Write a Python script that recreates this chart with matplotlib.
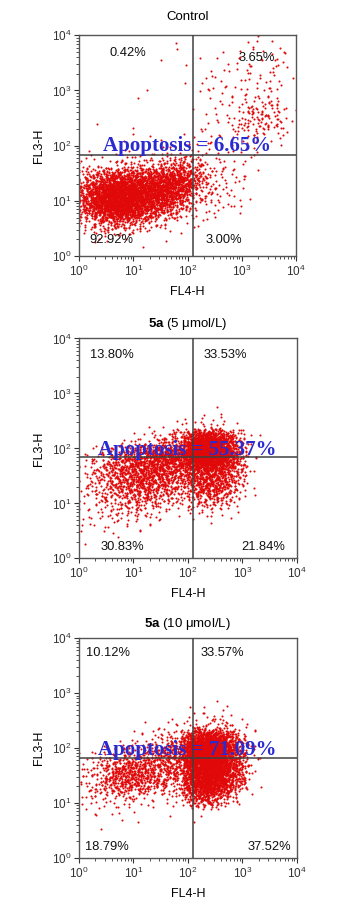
import matplotlib.pyplot as plt
import numpy as np

plt.rcParams['font.family'] = ['Liberation Sans', 'DejaVu Sans']
plt.rcParams['mathtext.fontset'] = 'custom'
plt.rcParams['mathtext.rm'] = 'Liberation Sans'
plt.rcParams['mathtext.bf'] = 'Liberation Sans:bold'
plt.rcParams['mathtext.it'] = 'Liberation Sans:italic'

titles = ["Control", r"$\mathbf{5a}$ (5 μmol/L)", r"$\mathbf{5a}$ (10 μmol/L)"]
apoptosis = ["6.65%", "55.37%", "71.09%"]
# quadrant percentages: upper-left, upper-right, lower-left, lower-right
pct_ul = ["0.42%", "13.80%", "10.12%"]
pct_ur = ["3.65%", "33.53%", "33.57%"]
pct_ll = ["92.92%", "30.83%", "18.79%"]
pct_lr = ["3.00%", "21.84%", "37.52%"]
gate_x = [126, 126, 126]
gate_y = [67, 69, 65]

# event counts on a 0.25-decade grid (rows: FL3-H high -> low, cols: FL4-H low -> high)
counts_control = [
    [0, 0, 0, 0, 0, 0, 0, 2, 0, 0, 0, 0, 2, 2, 2, 0],
    [0, 0, 0, 0, 0, 0, 0, 1, 0, 1, 2, 2, 2, 4, 4, 1],
    [0, 0, 0, 0, 0, 0, 1, 0, 0, 2, 3, 3, 4, 5, 4, 1],
    [0, 0, 0, 0, 1, 0, 0, 0, 1, 3, 4, 3, 4, 5, 4, 1],
    [0, 0, 0, 0, 1, 0, 0, 0, 0, 2, 3, 3, 5, 7, 4, 1],
    [0, 0, 0, 0, 0, 0, 0, 0, 1, 2, 3, 6, 14, 18, 14, 2],
    [0, 1, 0, 0, 0, 1, 0, 0, 1, 2, 3, 7, 16, 20, 13, 3],
    [0, 0, 0, 2, 1, 0, 2, 1, 2, 3, 3, 3, 4, 4, 2, 0],
    [1, 1, 1, 2, 2, 2, 3, 4, 6, 5, 3, 3, 2, 1, 0, 0],
    [6, 10, 14, 18, 20, 25, 35, 50, 35, 10, 6, 4, 2, 1, 0, 0],
    [40, 80, 130, 150, 140, 150, 170, 180, 70, 15, 8, 5, 2, 0, 0, 0],
    [90, 200, 340, 360, 280, 230, 190, 120, 30, 12, 8, 4, 1, 0, 0, 0],
    [70, 170, 280, 290, 190, 120, 70, 30, 10, 6, 5, 3, 0, 0, 0, 0],
    [15, 35, 50, 45, 30, 15, 8, 4, 2, 2, 0, 0, 0, 0, 0, 0],
    [2, 4, 5, 4, 2, 1, 0, 0, 0, 0, 0, 0, 0, 0, 0, 0],
    [0, 0, 0, 0, 0, 0, 0, 0, 0, 0, 0, 0, 0, 0, 0, 0],
]
counts_5um = [
    [0, 0, 0, 0, 0, 0, 0, 0, 0, 0, 0, 0, 0, 0, 0, 0],
    [0, 0, 0, 0, 0, 0, 0, 0, 0, 0, 0, 0, 0, 0, 0, 0],
    [0, 0, 0, 0, 0, 0, 0, 0, 0, 0, 0, 0, 0, 0, 0, 0],
    [0, 0, 0, 0, 0, 0, 0, 0, 0, 0, 0, 0, 0, 0, 0, 0],
    [0, 0, 0, 0, 0, 0, 0, 0, 0, 0, 0, 0, 0, 0, 0, 0],
    [0, 0, 0, 0, 0, 0, 0, 1, 0, 2, 2, 0, 0, 0, 0, 0],
    [0, 0, 0, 0, 0, 1, 3, 4, 8, 12, 8, 3, 0, 0, 0, 0],
    [0, 0, 0, 3, 8, 18, 30, 45, 260, 330, 220, 60, 3, 0, 0, 0],
    [3, 12, 30, 55, 85, 110, 130, 140, 380, 430, 280, 90, 6, 0, 0, 0],
    [8, 22, 50, 80, 105, 105, 95, 75, 110, 150, 110, 45, 4, 0, 0, 0],
    [10, 20, 45, 70, 90, 80, 60, 40, 80, 120, 90, 35, 3, 0, 0, 0],
    [6, 15, 25, 40, 50, 40, 25, 15, 35, 55, 40, 12, 0, 0, 0, 0],
    [4, 8, 12, 15, 15, 10, 5, 3, 6, 8, 5, 1, 0, 0, 0, 0],
    [3, 4, 5, 5, 3, 1, 0, 0, 0, 0, 0, 0, 0, 0, 0, 0],
    [1, 0, 1, 0, 0, 0, 0, 0, 0, 0, 0, 0, 0, 0, 0, 0],
    [1, 0, 0, 0, 0, 0, 0, 0, 0, 0, 0, 0, 0, 0, 0, 0],
]
counts_10um = [
    [0, 0, 0, 0, 0, 0, 0, 0, 0, 0, 0, 0, 0, 0, 0, 0],
    [0, 0, 0, 0, 0, 0, 0, 0, 0, 0, 0, 0, 0, 0, 0, 0],
    [0, 0, 0, 0, 0, 0, 0, 0, 0, 0, 0, 0, 0, 0, 0, 0],
    [0, 0, 0, 0, 0, 0, 0, 0, 0, 0, 0, 0, 0, 0, 0, 0],
    [0, 0, 0, 0, 0, 0, 0, 0, 0, 1, 2, 0, 0, 0, 0, 0],
    [0, 0, 0, 0, 0, 0, 0, 0, 2, 3, 3, 1, 0, 0, 0, 0],
    [0, 0, 0, 0, 1, 2, 4, 6, 15, 20, 18, 8, 2, 0, 0, 0],
    [0, 0, 0, 3, 6, 12, 20, 35, 250, 300, 220, 70, 5, 0, 0, 0],
    [2, 5, 10, 20, 30, 45, 60, 80, 380, 430, 300, 100, 10, 0, 0, 0],
    [8, 20, 55, 90, 85, 65, 55, 60, 260, 330, 250, 100, 10, 0, 0, 0],
    [10, 22, 55, 80, 70, 45, 35, 40, 220, 290, 190, 70, 6, 0, 0, 0],
    [5, 10, 15, 15, 10, 6, 6, 10, 90, 110, 50, 12, 0, 0, 0, 0],
    [2, 3, 3, 2, 1, 0, 0, 0, 3, 2, 0, 0, 0, 0, 0, 0],
    [0, 1, 0, 1, 0, 0, 0, 1, 0, 0, 0, 0, 0, 0, 0, 0],
    [0, 0, 0, 0, 0, 0, 0, 0, 0, 0, 0, 0, 0, 0, 0, 0],
    [0, 0, 0, 0, 0, 0, 0, 0, 0, 0, 0, 0, 0, 0, 0, 0],
]
grids = [counts_control, counts_5um, counts_10um]
cell = 0.25  # decades per grid cell


def halton(i, base):
    f, r = 1.0, 0.0
    while i > 0:
        f /= base
        r += f * (i % base)
        i //= base
    return r


def events_from_grid(grid):
    """ spread each cell's count around the cell centre (tent shape, log space)
        so neighbouring cells blend instead of leaving square blocks """
    xs, ys = [], []
    idx = 0
    nrow = len(grid)
    for r, row in enumerate(grid):
        cy = (nrow - 1 - r + 0.5) * cell
        for c, n in enumerate(row):
            cx = (c + 0.5) * cell
            for k in range(n):
                idx += 1
                dx = (halton(idx, 2) + halton(idx, 5) - 1) * cell
                dy = (halton(idx, 3) + halton(idx, 7) - 1) * cell
                xs.append(min(max(cx + dx, 0.005), 3.995))
                ys.append(min(max(cy + dy, 0.005), 3.995))
    return 10 ** np.array(xs), 10 ** np.array(ys)


# layout (figure fractions) and label spots (axes fractions)
axes_rect = [[0.231, 0.717, 0.635, 0.244],
             [0.231, 0.383, 0.637, 0.243],
             [0.231, 0.052, 0.637, 0.243]]
pos_ul = [(0.227, 0.92), (0.15, 0.923), (0.134, 0.934)]
pos_ur = [(0.819, 0.895), (0.673, 0.923), (0.659, 0.934)]
pos_ll = [(0.15, 0.075), (0.2, 0.051), (0.128, 0.049)]
pos_lr = [(0.668, 0.072), (0.845, 0.051), (0.876, 0.049)]
pos_apo = [(0.496, 0.497), (0.497, 0.492), (0.499, 0.49)]
title_pad = [11, 8, 8]

fig = plt.figure(figsize=(3.42, 9.05), dpi=100)
for i in range(3):
    ax = fig.add_axes(axes_rect[i])
    x, y = events_from_grid(grids[i])
    ax.scatter(x, y, s=2.2, c='#e00808', linewidths=0, marker='o', zorder=2)
    ax.set_xscale('log')
    ax.set_yscale('log')
    ax.set_xlim(1, 1e4)
    ax.set_ylim(1, 1e4)
    ax.axvline(gate_x[i], color='#404040', lw=1.1, zorder=3)
    ax.axhline(gate_y[i], color='#404040', lw=1.1, zorder=3)
    for sp in ax.spines.values():
        sp.set_color('#555555')
        sp.set_linewidth(1.0)
    ax.tick_params(which='both', direction='out', colors='#333333', top=False, right=False)
    ax.tick_params(which='major', length=3.5, width=0.8, labelsize=8.5, pad=2)
    ax.tick_params(which='minor', length=2, width=0.6)
    ax.set_xlabel("FL4-H", fontsize=9, labelpad=5)
    ax.set_ylabel("FL3-H", fontsize=9, labelpad=5)
    ax.set_title(titles[i], fontsize=9.5, pad=title_pad[i])
    for lab, p in zip([pct_ul[i], pct_ur[i], pct_ll[i], pct_lr[i]],
                      [pos_ul[i], pos_ur[i], pos_ll[i], pos_lr[i]]):
        ax.text(p[0], p[1], lab, transform=ax.transAxes, ha='center', va='center',
                fontsize=9.3, color='#111111', zorder=4)
    ax.text(pos_apo[i][0], pos_apo[i][1], "Apoptosis = " + apoptosis[i], transform=ax.transAxes,
            ha='center', va='center', fontsize=15, family='Liberation Serif', weight='bold',
            color='#2a2ad0', zorder=5)

fig.savefig("out.png", dpi=100)
